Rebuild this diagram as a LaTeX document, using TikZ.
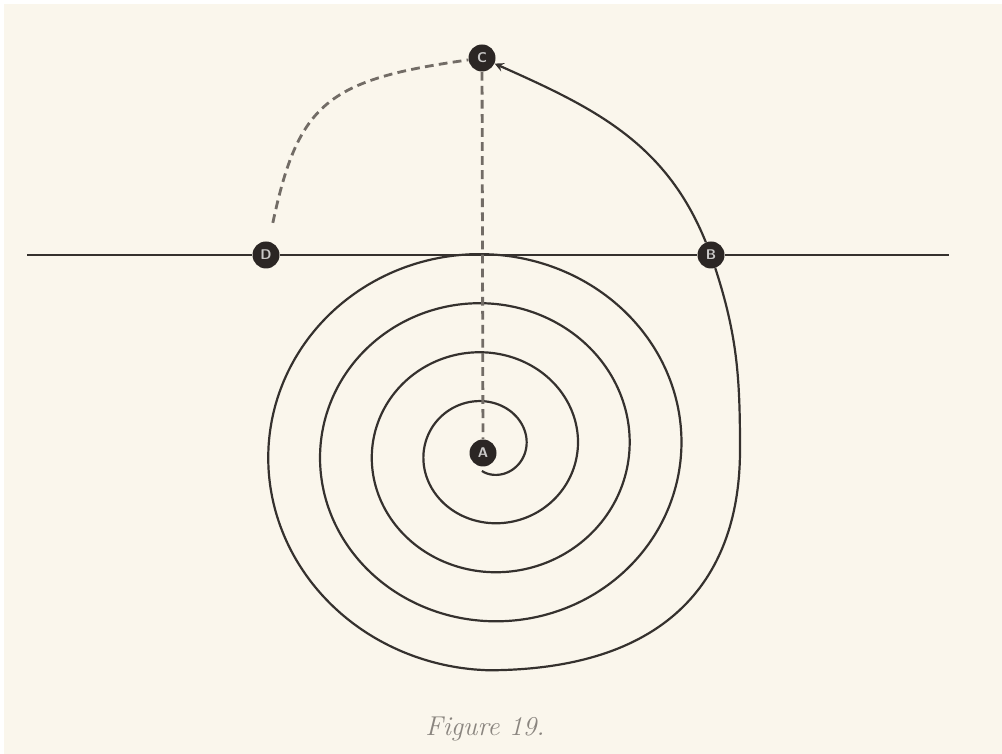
\documentclass[tikz,border=0pt]{standalone}
\usepackage{tikz}

\definecolor{paper}{HTML}{FAF6EC}
\definecolor{ink}{HTML}{35312E}
\definecolor{dotfill}{HTML}{2B2624}
\definecolor{dashgray}{HTML}{726C66}
\definecolor{capt}{HTML}{8A857F}

\begin{document}
\begin{tikzpicture}[>=stealth,
    pt/.style={circle,fill=dotfill,inner sep=0pt,minimum size=0.54cm,
      text=white!75!dotfill,font=\sffamily\bfseries\footnotesize},
    spiralline/.style={draw=ink,line width=1.25pt},
    dashline/.style={draw=dashgray,line width=1.6pt,dash pattern=on 5pt off 3pt}]
  \useasboundingbox (0,0) rectangle (20.04,15.08);
  \fill[white] (0,0) rectangle (20.04,15.08);
  \fill[paper] (0.08,0) rectangle (20.04,15.0);

  % the four points
  \foreach \n/\x/\y in {A/9.66/6.02, B/14.22/9.98, C/9.64/13.92, D/5.32/9.98}
    \node[pt] (\n) at (\x,\y) {\n};

  \coordinate (W) at (0.54,9.98);
  \coordinate (E) at (18.98,9.98);
  \coordinate (R) at (14.8,6.08);

  % horizontal line
  \draw[spiralline] (W) -- (D) -- (B) -- (E);

  % spiral out of A, round to B, up to C
  \draw[spiralline,->]
    plot[domain=-105:1350,samples=400,smooth]
      ({9.756+(0.76+0.165*rad(\x))*cos(\x)},{6.08+0.948*(0.76+0.165*rad(\x))*sin(\x)})
    .. controls (13.44,1.68) and (14.8,3.58) .. (R)
    to[out=90,in=-72] (B)
    to[out=112,in=-24] (C);

  % dashed lines
  \draw[dashline] (C) -- (A);
  \draw[dashline,shorten <=0.38cm] (D) to[out=78,in=188,looseness=1.35] (C);

  \node[text=capt,font=\itshape\fontsize{15.5}{18}\selectfont] (cap) at (9.7,0.5) {Figure 19.};
\end{tikzpicture}
\end{document}
